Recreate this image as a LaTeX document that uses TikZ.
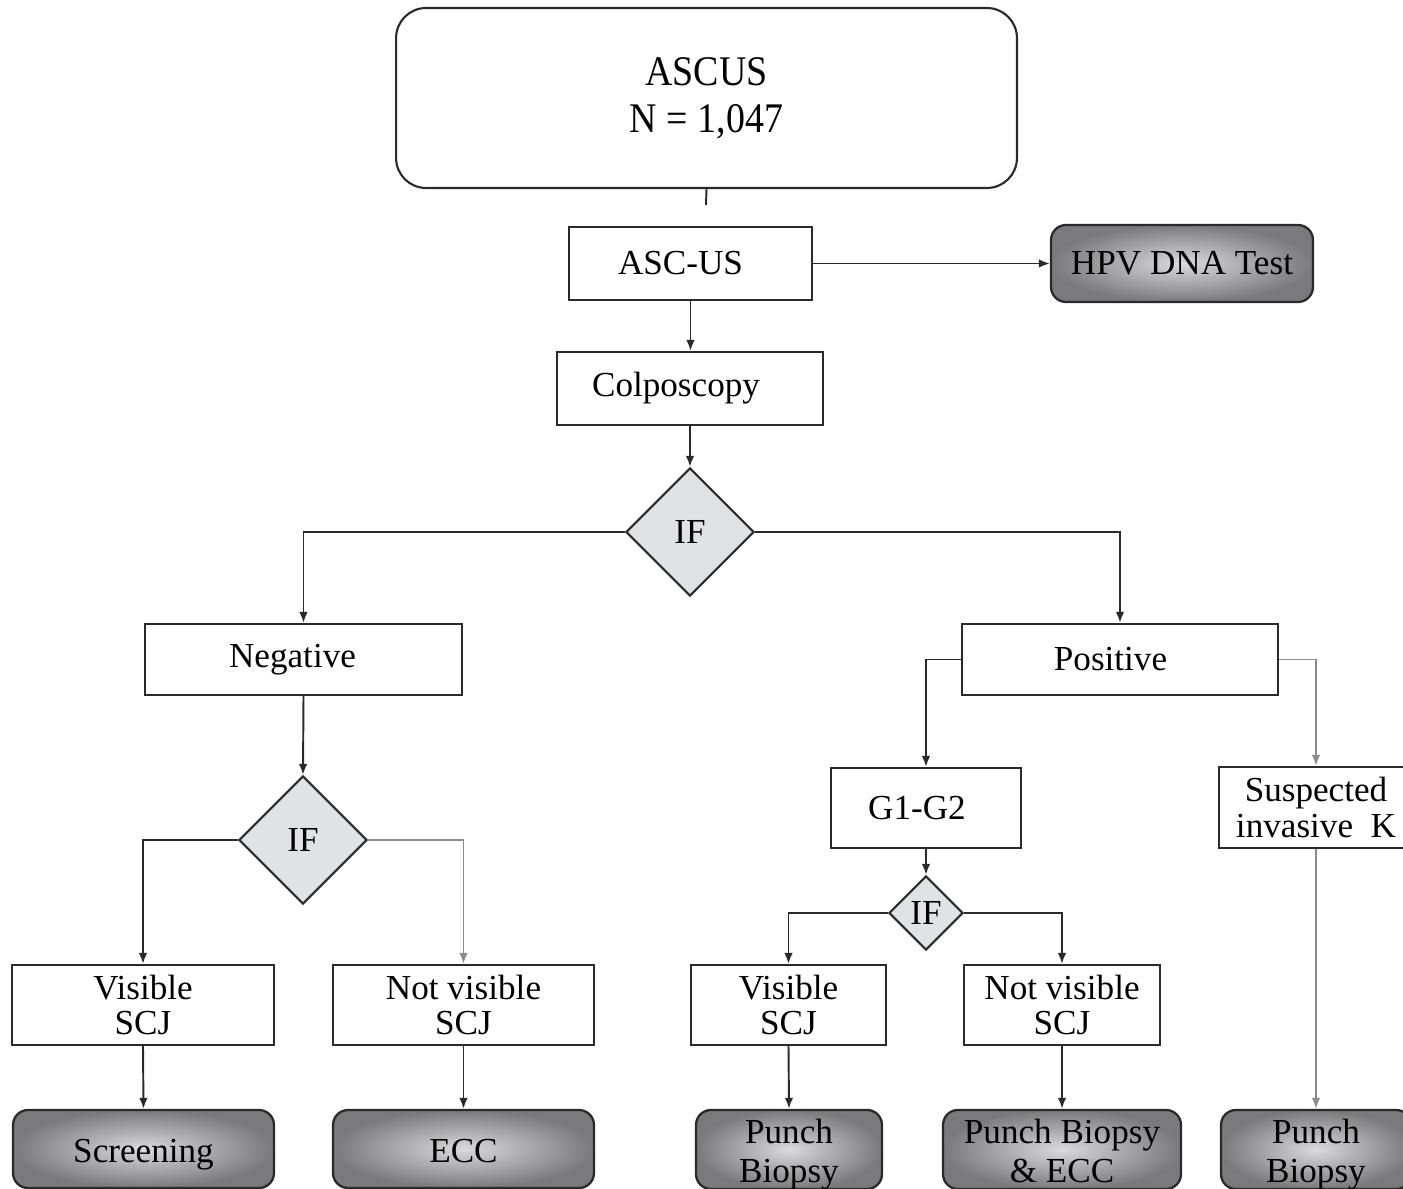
\documentclass[tikz,border=0pt]{standalone}
\usepackage{fontspec}
\setmainfont{Liberation Serif}
\usepackage{graphicx}
\usetikzlibrary{shapes.geometric,arrows.meta}
\definecolor{lineclr}{HTML}{2A2A2A}
\definecolor{grayline}{HTML}{8C8C8C}
\definecolor{diafill}{HTML}{E1E2E4}
\definecolor{shin}{HTML}{DADADC}
\definecolor{shout}{HTML}{7A7A7C}
\newcommand{\lowtext}[1]{\raisebox{-0.11cm}[\height][\depth]{\begin{tabular}{@{}c@{}}#1\end{tabular}}}
\begin{document}
\begin{tikzpicture}[x=0.02cm,y=-0.02cm,
  every node/.style={font=\fontsize{20}{20}\selectfont, text=black},
  plainbox/.style={draw=lineclr, line width=1.2pt, rectangle, inner sep=0pt, align=center},
  shadebox/.style={draw=lineclr, line width=1.3pt, rectangle, rounded corners=0.3cm, inner sep=0pt, align=center, inner color=shin, outer color=shout, font=\fontsize{20}{22.5}\selectfont},
  ifbox/.style={draw=lineclr, line width=1.2pt, diamond, fill=diafill, inner sep=0pt, aspect=1},
  conn/.style={draw=lineclr, line width=1.1pt},
  arr/.style={conn, -{Latex[length=2.2mm,width=1.7mm]}},
  garr/.style={arr, draw=grayline}
]
\useasboundingbox (0,0) rectangle (1403,1189);
\clip (0,0) rectangle (1403,1189);
\fill[white] (0,0) rectangle (1403,1189);

% top
\node[plainbox, rounded corners=0.6cm, minimum width=12.42cm, minimum height=3.6cm, font=\fontsize{24}{26.7}\selectfont] (ascus) at (706.5,98) {\scalebox{0.9}[1]{ASCUS}\\\scalebox{0.9}[1]{N = 1,047}};
\coordinate (stub) at (706,205);
\draw[conn] (ascus.south) -- (stub);

\node[plainbox, minimum width=4.86cm, minimum height=1.46cm] (ascus2) at (690.5,263.5) {ASC-US\hspace*{0.4cm}};
\node[shadebox, minimum width=5.24cm, minimum height=1.54cm] (hpv) at (1182,263.5) {HPV DNA Test};
\node[plainbox, minimum width=5.32cm, minimum height=1.46cm] (colpo) at (690,388.5) {Colposcopy\hspace*{0.56cm}};
\node[ifbox, minimum width=2.56cm, minimum height=2.56cm] (if1) at (690,532) {IF};

\draw[arr] (ascus2.east) -- (hpv.west);
\draw[arr] (ascus2.south) -- (ascus2.south |- colpo.north);
\draw[arr] (colpo.south) -- (if1.north);

% second level
\node[plainbox, minimum width=6.34cm, minimum height=1.42cm] (neg) at (303.5,659.5) {Negative\hspace*{0.44cm}};
\node[plainbox, minimum width=6.32cm, minimum height=1.42cm] (pos) at (1120,659.5) {Positive\hspace*{0.38cm}};
\draw[arr] (if1.west) -| (neg.north);
\draw[arr] (if1.east) -| (pos.north);

% negative branch
\node[ifbox, minimum width=2.56cm, minimum height=2.56cm] (if2) at (303,840) {IF};
\draw[arr] (neg.south) -- (if2.north);
\node[plainbox, minimum width=5.24cm, minimum height=1.6cm] (vis1) at (143,1005) {Visible\\SCJ};
\node[plainbox, minimum width=5.22cm, minimum height=1.6cm] (nvis1) at (463.5,1005) {Not visible\\SCJ};
\draw[arr] (if2.west) -| (vis1.north);
\draw[garr] (if2.east) -| (nvis1.north);
\node[shadebox, minimum width=5.22cm, minimum height=1.56cm] (scr) at (143.5,1149) {\lowtext{Screening}};
\node[shadebox, minimum width=5.22cm, minimum height=1.56cm] (ecc) at (463.5,1149) {\lowtext{ECC}};
\draw[arr] (vis1.south) -- (scr.north);
\draw[arr] (nvis1.south) -- (ecc.north);

% positive branch
\node[plainbox, minimum width=3.8cm, minimum height=1.6cm] (g12) at (926,808) {G1-G2\hspace*{0.36cm}};
\node[plainbox, minimum width=3.88cm, minimum height=1.62cm] (susp) at (1316,807.5) {Suspected\\invasive~~K};
\draw[arr] (pos.west) -| (g12.north);
\draw[garr] (pos.east) -| (susp.north);

\node[ifbox, minimum width=1.48cm, minimum height=1.48cm] (if3) at (926,913) {IF};
\draw[arr] (g12.south) -- (if3.north);
\node[plainbox, minimum width=3.9cm, minimum height=1.6cm] (vis2) at (788.5,1005) {Visible\\SCJ};
\node[plainbox, minimum width=3.92cm, minimum height=1.6cm] (nvis2) at (1062,1005) {Not visible\\SCJ};
\draw[arr] (if3.west) -| (vis2.north);
\draw[arr] (if3.east) -| (nvis2.north);

\node[shadebox, minimum width=3.72cm, minimum height=1.58cm] (pb1) at (789,1149.5) {\lowtext{Punch\\Biopsy}};
\node[shadebox, minimum width=4.76cm, minimum height=1.58cm] (pbe) at (1062,1149.5) {\lowtext{Punch Biopsy\\\& ECC}};
\node[shadebox, minimum width=3.8cm, minimum height=1.58cm] (pb3) at (1316,1149.5) {\lowtext{Punch\\Biopsy}};
\draw[arr] (vis2.south) -- (pb1.north);
\draw[arr] (nvis2.south) -- (pbe.north);
\draw[garr] (susp.south) -- (pb3.north);
\end{tikzpicture}
\end{document}
